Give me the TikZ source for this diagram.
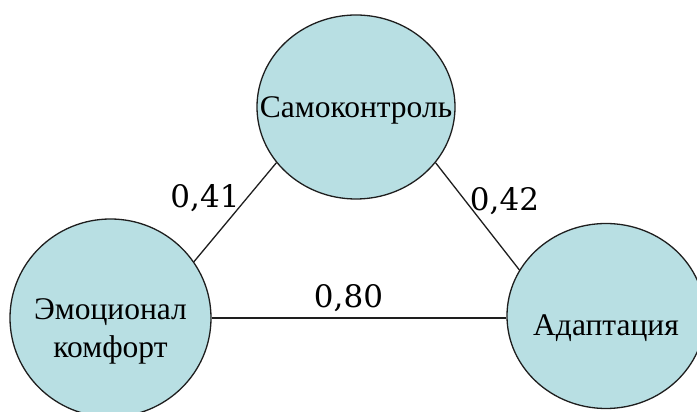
\documentclass[tikz,border=0pt]{standalone}
\usepackage{fontspec}
\setmainfont{Liberation Serif}
\newfontfamily\numfont{DejaVu Serif}
\usepackage{xcolor}
\usetikzlibrary{shapes.geometric}
\definecolor{factorFill}{RGB}{184, 223, 227}
\definecolor{factorLine}{RGB}{30, 30, 30}
\newcommand{\lowtext}[2]{\raisebox{-#1}[0pt][0pt]{#2}}

\begin{document}
\begin{tikzpicture}[x=1pt, y=1pt]
                    \tikzstyle{factor} = [ellipse, draw=factorLine, fill=factorFill, line width=1.3pt, inner sep=-40pt, font=\fontsize{31.5}{37.5}\selectfont]
                    \tikzstyle{link} = [draw=factorLine, line width=1.3pt]
                    \tikzstyle{weight} = [font=\numfont\fontsize{31}{36}\selectfont, inner sep=0pt]
                    \useasboundingbox (0,0) rectangle (697,412);
                    \node[factor, minimum width=198pt, minimum height=184pt] (self) at (356,305) {\lowtext{11pt}{Самоконтроль}};
                    \node[factor, minimum width=201pt, minimum height=198pt] (comfort) at (110.5,94) {\lowtext{2pt}{\begin{tabular}[t]{@{}c@{}}Эмоционал\\комфорт\end{tabular}}};
                    \node[factor, minimum width=198pt, minimum height=185pt] (adapt) at (606,96) {\lowtext{20pt}{Адаптация}};
                    \draw[link] (comfort.34) -- (self.215);
                    \draw[link] (self.325) -- (adapt.152);
                    \draw[link] (comfort.east) -- (comfort.east -| adapt.west);
                    \node[weight] (w41) at (205,214) {0,41};
                    \node[weight] (w42) at (504.5,211) {0,42};
                    \node[weight] (w80) at (348.5,113.5) {0,80};
                \end{tikzpicture}
\end{document}
